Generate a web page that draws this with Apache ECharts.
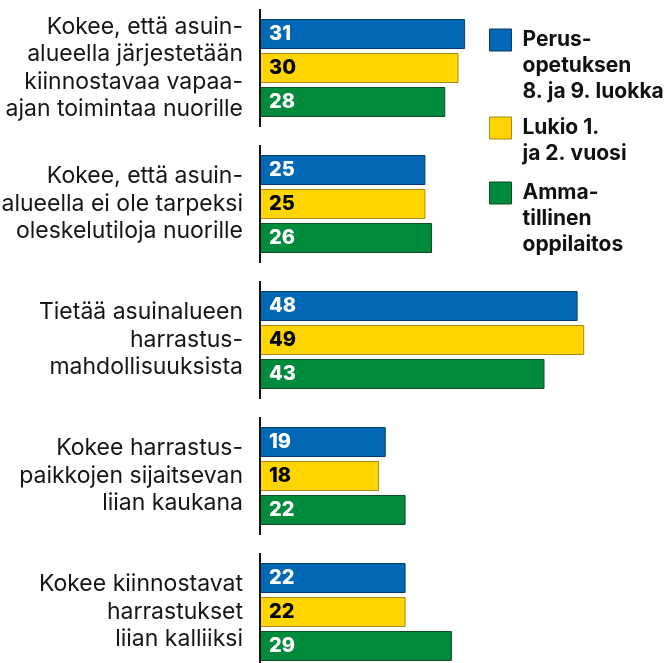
<!DOCTYPE html>
<html lang="fi">
<head>
<meta charset="UTF-8">
<title>Nuoret ja harrastukset</title>
<style>
  html, body { margin: 0; padding: 0; background: #fff; }
  #box { width: 672px; height: 663px; }
</style>
<script src="https://cdn.jsdelivr.net/npm/echarts@6/dist/echarts.min.js"></script>
</head>
<body>
<div id="box"></div>
<script>
// kysymykset (pystyakselin nimet)
const categories = [
  'Kokee, että asuin-\nalueella järjestetään\nkiinnostavaa vapaa-\najan toimintaa nuorille',
  'Kokee, että asuin-\nalueella ei ole tarpeksi\noleskelutiloja nuorille',
  'Tietää asuinalueen\nharrastus-\nmahdollisuuksista',
  'Kokee harrastus-\npaikkojen sijaitsevan\nliian kaukana',
  'Kokee kiinnostavat\nharrastukset\nliian kalliiksi'
];

const seriesNames = ['Perusopetuksen 8. ja 9. luokka', 'Lukio 1. ja 2. vuosi', 'Ammatillinen oppilaitos'];
const legendLines = [
  ['Perus-', 'opetuksen', '8. ja 9. luokka'],
  ['Lukio 1.', 'ja 2. vuosi'],
  ['Amma-', 'tillinen', 'oppilaitos']
];

const perusopetus = [31, 25, 48, 19, 22];
const lukio = [30, 25, 49, 18, 22];
const ammatillinen = [28, 26, 43, 22, 29];

const colors = ['#0068b4', '#ffd500', '#008a3c'];
const borders = ['#0b3d63', '#a8891a', '#0e4a27'];
const labelColors = ['#fff', '#000', '#fff'];

const box = document.querySelector('#box');
const myChart = echarts.init(box);

const LH = 26;
// legendit erikseen, jotta neliö on ensimmäisen rivin kohdalla:
// tyhjät rivit alkuun -> ensimmäinen rivi osuu tekstilohkon keskelle
const iconTops = [29, 117, 182];
const legends = seriesNames.map(function (name, i) {
  const n = legendLines[i].length;
  const offset = 11 - ((2 * n - 1) * LH) / 2;
  return {
    left: 489,
    top: iconTops[i] + offset,
    padding: 0,
    orient: 'vertical',
    selectedMode: false,
    itemWidth: 22,
    itemHeight: 22,
    icon: 'rect',
    data: [{
      name: name,
      itemStyle: { borderColor: borders[i], borderWidth: 1 }
    }],
    formatter: function () {
      return new Array(n).join('\n') + legendLines[i].join('\n');
    },
    textStyle: {
      fontFamily: 'Inter',
      fontWeight: 'bold',
      fontSize: 21,
      lineHeight: LH,
      color: '#111',
      padding: [0, 0, 0, 6]
    }
  };
});

const values = [perusopetus, lukio, ammatillinen];
const barSeries = values.map(function (data, i) {
  return {
    name: seriesNames[i],
    type: 'bar',
    data: data,
    barWidth: 30,
    barGap: '13.3%',
    itemStyle: { color: colors[i], borderColor: borders[i], borderWidth: 1 },
    label: {
      show: true,
      position: 'insideLeft',
      distance: 9,
      color: labelColors[i],
      fontFamily: 'Inter',
      fontWeight: 800,
      fontSize: 20,
      formatter: '{c}'
    },
    emphasis: { disabled: true },
    z: 2
  };
});

const option = {
  animation: false,
  legend: legends,
  // viimeinen ryhmä jatkuu hieman kuvan alareunan yli
  grid: { left: 260, top: 0, width: 397, height: 680, outerBoundsMode: 'none', containLabel: false },
  xAxis: {
    type: 'value',
    min: 0,
    max: 60,
    show: false
  },
  yAxis: {
    type: 'category',
    inverse: true,
    data: categories,
    axisLine: { show: false },
    axisTick: { show: false },
    axisLabel: {
      margin: 17,
      fontFamily: 'Inter',
      fontSize: 23,
      lineHeight: 27.5,
      color: '#161616',
      align: 'right'
    }
  },
  series: barSeries.concat([{
    // ryhmäkohtainen pystyviiva
    type: 'custom',
    silent: true,
    z: 5,
    data: categories.map(function (c, i) { return [0, i]; }),
    encode: { x: 0, y: 1 },
    renderItem: function (params, api) {
      const p = api.coord([0, api.value(1)]);
      const band = api.size([0, 1])[1];
      return {
        type: 'line',
        shape: { x1: p[0], y1: p[1] - band / 2 + 9, x2: p[0], y2: p[1] + band / 2 - 9 },
        style: { stroke: '#111', lineWidth: 2 }
      };
    }
  }])
};

myChart.setOption(option);
</script>
</body>
</html>
